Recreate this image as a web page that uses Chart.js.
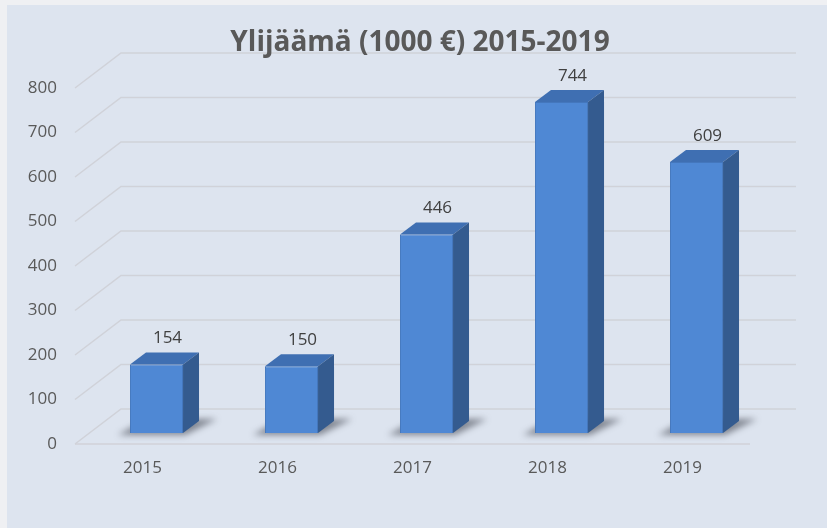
<!DOCTYPE html>
<html lang="fi">
<head>
<meta charset="utf-8">
<title>Ylijäämä 2015-2019</title>
<script src="https://cdn.jsdelivr.net/npm/chart.js@4/dist/chart.umd.min.js"></script>
<style>
  html, body { margin: 0; padding: 0; background: #eff0f3; }
  canvas { display: block; }
</style>
</head>
<body>
<canvas id="ylijaamaKaavio" width="827" height="528"></canvas>
<script>
const vuodet = ['2015', '2016', '2017', '2018', '2019'];
const ylijaama = [154, 150, 446, 744, 609];
const otsikko = 'Ylijäämä (1000 €) 2015-2019';
const asteikkoMax = 800;
const asteikkoVali = 100;

// 3D-vaikutelman siirtymät pikseleinä
const ETU = { dx: -14, dy: 11 };     // lattian etureuna
const TAKA = { dx: 32, dy: -24 };    // takaseinä
const SYVYYS = { dx: 16, dy: -12 };  // pylvään syvyys

const fontti = '"Open Sans", sans-serif';

const kolmiulotteinen = {
  id: 'kolmiulotteinen',
  beforeDraw(chart) {
    const ctx = chart.ctx;
    ctx.save();
    ctx.fillStyle = '#eff0f3';
    ctx.fillRect(0, 0, chart.width, chart.height);
    ctx.fillStyle = '#dde4ef';
    ctx.fillRect(7, 5, chart.width - 7, chart.height - 5);
    ctx.restore();
  },
  beforeDatasetsDraw(chart) {
    const ctx = chart.ctx;
    const y = chart.scales.y;
    const area = chart.chartArea;
    ctx.save();
    ctx.strokeStyle = '#d0d2d9';
    ctx.lineWidth = 1.5;
    y.ticks.forEach(t => {
      const py = y.getPixelForValue(t.value);
      ctx.beginPath();
      ctx.moveTo(area.left + ETU.dx, py + ETU.dy);
      ctx.lineTo(area.left + TAKA.dx, py + TAKA.dy);
      ctx.lineTo(area.right + TAKA.dx, py + TAKA.dy);
      ctx.stroke();
    });
    // lattian etureuna
    const p0 = y.getPixelForValue(0);
    ctx.beginPath();
    ctx.moveTo(area.left + ETU.dx, p0 + ETU.dy);
    ctx.lineTo(area.right + ETU.dx, p0 + ETU.dy);
    ctx.stroke();

    // varjot pylväiden alla
    const meta = chart.getDatasetMeta(0);
    ctx.filter = 'blur(3px)';
    ctx.fillStyle = 'rgba(55, 58, 70, 0.55)';
    meta.data.forEach(bar => {
      const L = bar.x - bar.width / 2;
      const R = bar.x + bar.width / 2;
      const B = bar.base;
      ctx.beginPath();
      ctx.moveTo(L - 12, B + 2);
      ctx.lineTo(R + 2, B + 2);
      ctx.lineTo(R + SYVYYS.dx + 18, B + SYVYYS.dy - 2);
      ctx.lineTo(L + SYVYYS.dx, B + SYVYYS.dy - 2);
      ctx.closePath();
      ctx.fill();
    });
    ctx.restore();
  },
  afterDatasetsDraw(chart) {
    const ctx = chart.ctx;
    const meta = chart.getDatasetMeta(0);
    ctx.save();
    meta.data.forEach((bar, i) => {
      const L = bar.x - bar.width / 2;
      const R = bar.x + bar.width / 2;
      const T = bar.y;
      const B = bar.base;
      // yläpinta
      ctx.fillStyle = '#3f6fb2';
      ctx.beginPath();
      ctx.moveTo(L, T);
      ctx.lineTo(L + SYVYYS.dx, T + SYVYYS.dy);
      ctx.lineTo(R + SYVYYS.dx, T + SYVYYS.dy);
      ctx.lineTo(R, T);
      ctx.closePath();
      ctx.fill();
      // sivupinta
      ctx.fillStyle = '#345b8f';
      ctx.beginPath();
      ctx.moveTo(R, T);
      ctx.lineTo(R + SYVYYS.dx, T + SYVYYS.dy);
      ctx.lineTo(R + SYVYYS.dx, B + SYVYYS.dy);
      ctx.lineTo(R, B);
      ctx.closePath();
      ctx.fill();
      // arvo pylvään yläpuolelle
      ctx.fillStyle = '#404040';
      ctx.font = '17px ' + fontti;
      ctx.textAlign = 'center';
      ctx.textBaseline = 'middle';
      ctx.fillText(String(ylijaama[i]), bar.x + 11, T - 26);
    });
    // otsikko
    ctx.fillStyle = '#595959';
    ctx.font = 'bold 28px ' + fontti;
    ctx.textAlign = 'center';
    ctx.textBaseline = 'middle';
    ctx.fillText(otsikko, 420, 43);
    ctx.restore();
  }
};

new Chart(document.getElementById('ylijaamaKaavio'), {
  type: 'bar',
  data: {
    labels: vuodet,
    datasets: [{
      label: 'Ylijäämä',
      data: ylijaama,
      backgroundColor: '#4f88d4',
      borderColor: '#4477bd',
      borderWidth: 1,
      barPercentage: 0.393,
      categoryPercentage: 1
    }]
  },
  plugins: [kolmiulotteinen],
  options: {
    responsive: false,
    animation: false,
    layout: { padding: { top: 77, right: 63, bottom: 0, left: 0 } },
    plugins: {
      legend: { display: false },
      title: { display: false },
      tooltip: { enabled: false }
    },
    scales: {
      x: {
        grid: { display: false, drawTicks: false },
        border: { display: false },
        ticks: {
          color: '#595959',
          font: { family: fontti, size: 17 },
          padding: 25,
          labelOffset: ETU.dx
        },
        afterFit(scale) { scale.height = 95; }
      },
      y: {
        min: 0,
        max: asteikkoMax,
        grid: { display: false, drawTicks: false },
        border: { display: false },
        ticks: {
          stepSize: asteikkoVali,
          color: '#595959',
          font: { family: fontti, size: 17 },
          padding: 32,
          labelOffset: ETU.dy
        },
        afterFit(scale) { scale.width = 89; }
      }
    }
  }
});
</script>
</body>
</html>
